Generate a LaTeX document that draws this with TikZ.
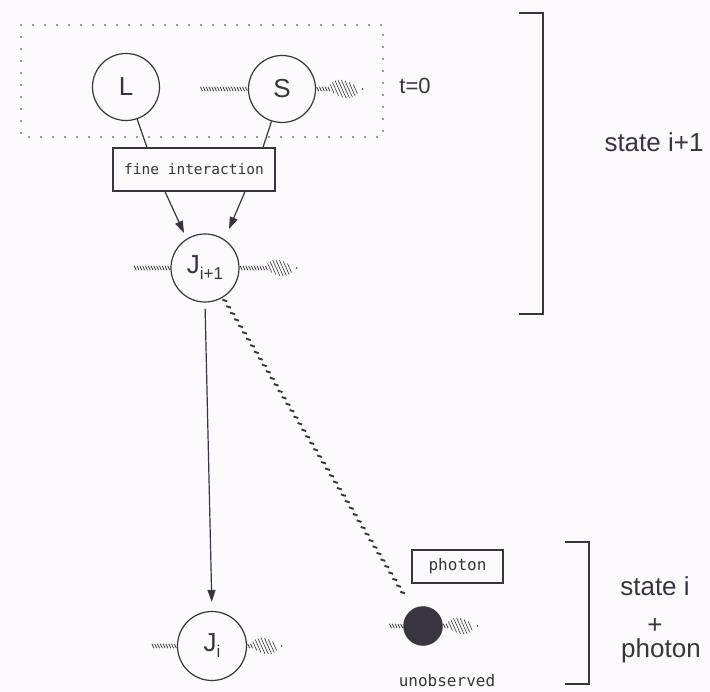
\documentclass[tikz,border=0pt]{standalone}
\usepackage{fontspec}
\setmainfont{Liberation Sans}
\newfontfamily\monof{DejaVu Sans Mono}
\usetikzlibrary{calc,decorations.markings,arrows.meta}
\definecolor{ink}{HTML}{3A3340}
\definecolor{paper}{HTML}{FCFAFC}
\tikzset{
  circ/.style={circle, draw=ink, line width=1.2pt, minimum size=67pt, inner sep=0pt,
    font=\fontsize{26}{26}\selectfont, text=ink},
  blob/.style={circle, fill=ink, draw=ink, minimum size=39pt, inner sep=0pt},
  box/.style={rectangle, draw=ink, line width=1.2pt, inner sep=0pt, text=ink},
  monotxt/.style={font=\monof\fontsize{16}{16}\selectfont, text=ink},
  lab/.style={font=\fontsize{26}{30}\selectfont, text=ink},
  ln/.style={draw=ink, line width=1.2pt},
  arr/.style={draw=ink, line width=1.2pt, -{Triangle[length=12pt,width=8pt]}},
  tick/.style={draw=ink, line width=0.8pt},
  btick/.style={draw=ink, line width=0.6pt},
  dotbox/.style={draw=ink, line width=1.7pt, line cap=round, dash pattern=on 0pt off 12pt},
  brk/.style={draw=ink, line width=1.2pt},
  diag/.style={decoration={markings,
      mark=between positions 0 and 1 step 7.6pt with
        {\draw[draw=ink, line width=1.9pt] (-1.9pt,-1.6pt) -- (1.9pt,1.6pt);}},
      postaction={decorate}}
}
\newcommand\leftwave[2]{%
  \foreach \k in {1,...,#2}{\draw[tick] ($(#1)+(-\k*2.8+1.2,0)$) ++(-1,-2.2) -- ++(2,4.4);}}
\newcommand\emitwave[4]{%
  \foreach \k in {1,...,#2}{\draw[tick] ($(#1)+(\k*2.8-1.2,0)$) ++(-1,-2.2) -- ++(2,4.4);}
  \foreach \k in {1,...,#3}{\pgfmathsetmacro\hh{2.2+#4*sin(180*\k/(#3+1))}
    \draw[btick] ($(#1)+(#2*2.8+\k*3.3-1.2,0)$) ++(-0.45*\hh,-\hh) -- ++(0.9*\hh,2*\hh);}
  \fill[ink] ($(#1)+(#2*2.8+#3*3.3+6,0)$) circle (0.9pt);}
\begin{document}
\begin{tikzpicture}[x=1pt,y=-1pt]
\useasboundingbox (0,0) rectangle (710,692);
\fill[paper] (0,0) rectangle (710,692);

% dotted t=0 region
\draw[dotbox] (21,25) rectangle (383,137);

% nodes
\node[circ] (L) at (126,87) {L};
\node[circ] (S) at (282,89) {S};
\node[lab, font=\fontsize{22}{22}\selectfont] (t0) at (415,86) {t=0};
\node[box, minimum width=162pt, minimum height=43pt, font=\monof\fontsize{14.5}{14.5}\selectfont] (fi) at (194,169.5) {fine interaction};
\node[circ, minimum size=68pt] (Jn) at (205,268) {J\raisebox{-6pt}{\fontsize{17}{17}\selectfont i+1}};
\node[circ, minimum size=69pt] (Ji) at (212,646) {J\raisebox{-6pt}{\fontsize{17}{17}\selectfont i}};
\node[blob] (dot) at (423,626) {};
\node[box, monotxt, minimum width=91pt, minimum height=33pt] (ph) at (457.5,566.5) {photon};
\node[monotxt] (unobs) at (447,681) {unobserved};

\coordinate (t1) at (184,233);
\coordinate (t2) at (229,229);

% connectors
\draw[ln] (L) -- ([xshift=-47pt]fi.north);
\draw[ln] (S) -- ([xshift=69pt]fi.north);
\draw[arr] ([xshift=-29pt]fi.south) -- (t1);
\draw[arr] ([xshift=51pt]fi.south) -- (t2);
\draw[arr, shorten <=6pt, shorten >=9pt] (Jn.south) -- (Ji.north);
\path[diag] ($(Jn)!38pt!(dot)$) -- ($(dot)!32pt!(Jn)$);

% wave trains
\leftwave{S.west}{17}
\emitwave{S.east}{5}{8}{7}
\leftwave{Jn.west}{13}
\emitwave{Jn.east}{10}{7}{6}
\leftwave{Ji.west}{9}
\emitwave{Ji.east}{2}{7}{6}
\leftwave{dot.west}{5}
\emitwave{dot.east}{2}{7}{6}

% brackets
\draw[brk] (519,13) -- (543,13) -- (543,314) -- (519,314);
\draw[brk] (565,542) -- (589,542) -- (589,684) -- (565,684);

% state labels
\node[lab, anchor=base] (si1) at (654,152) {state i+1};
\node[lab, anchor=base] (si) at (655,595) {state i};
\node[lab] (plus) at (655,626) {+};
\node[lab, anchor=base] (sph) at (661,657) {photon};
\end{tikzpicture}
\end{document}
